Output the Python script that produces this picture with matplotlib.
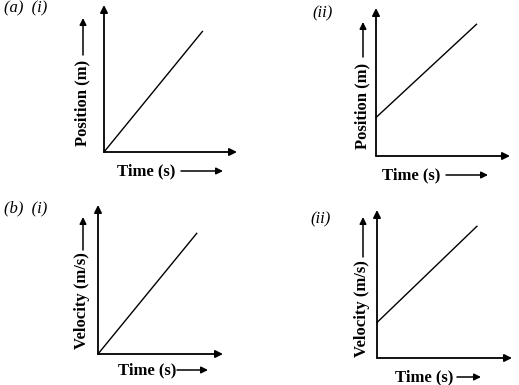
import matplotlib
matplotlib.use('Agg')
import matplotlib.pyplot as plt

# data for the four sketches (arbitrary units, axes run 0..10)
panel_names = ['(a)  (i)', '(ii)', '(b)  (i)', '(ii)']
y_labels = ['Position (m)', 'Position (m)', 'Velocity (m/s)', 'Velocity (m/s)']
x_labels = ['Time (s)', 'Time (s)', 'Time (s)', 'Time (s)']
line_t = [[0, 7.4], [0, 7.5], [0, 7.9], [0, 7.4]]
line_v = [[0, 8.2], [2.6, 8.9], [0, 8.1], [2.4, 8.9]]

W, H = 519, 385
fig = plt.figure(figsize=(W / 100, H / 100), dpi=100)
fig.patch.set_facecolor('white')

def fx(px):
    return px / W

def fy(py):
    return 1 - py / H

# layout in pixels: origin x, origin y, x tip, y tip
boxes = [(104, 152, 237, 5), (376, 156, 510, 8), (98, 354, 223, 205), (377, 358, 512, 210)]
# panel name pos, ylabel center x, ylabel text span (bottom, top), ylabel arrow top,
# xlabel left x, xlabel y, xlabel arrow (start, end)
name_pos = [(4, 8), (312, 13), (4, 208), (310, 219)]
ylab = [(82, 145, 60, 18), (362, 150, 62, 22), (82, 347, 255, 217), (362, 355, 262, 217)]
xlab = [(117, 171, 181, 223), (382, 175, 446, 488), (118, 370, 177, 208), (395, 377, 457, 481)]

serif = 'Liberation Serif'
arrow_kw = dict(arrowstyle='-|>', color='black', lw=1.3, mutation_scale=11,
                shrinkA=0, shrinkB=0)
small_arrow = dict(arrowstyle='-|>', color='black', lw=1.1, mutation_scale=10,
                   shrinkA=0, shrinkB=0)

for i in range(4):
    ox, oy, tx, ty = boxes[i]
    ax = fig.add_axes([fx(ox), fy(oy), fx(tx) - fx(ox), fy(ty) - fy(oy)])
    ax.set_xlim(0, 10)
    ax.set_ylim(0, 10)
    ax.axis('off')
    ax.plot(line_t[i], line_v[i], color='black', lw=1.0, clip_on=False)
    ax.annotate('', xy=(1, 0), xytext=(0, 0), xycoords='axes fraction',
                arrowprops=arrow_kw)
    ax.annotate('', xy=(0, 1), xytext=(0, 0), xycoords='axes fraction',
                arrowprops=arrow_kw)

    nx_, ny_ = name_pos[i]
    fig.text(fx(nx_), fy(ny_), panel_names[i], family=serif, style='italic',
             fontsize=12, ha='left', va='center')

    cx, yb, yt, ya = ylab[i]
    fig.text(fx(cx), (fy(yb) + fy(yt)) / 2, y_labels[i], family=serif,
             weight='bold', fontsize=12, rotation=90, ha='center', va='center')
    fig.add_artist(matplotlib.patches.FancyArrowPatch(
        (fx(cx + 1), fy(yt - 5)), (fx(cx + 1), fy(ya)), transform=fig.transFigure,
        **small_arrow))

    lx, ly, a0, a1 = xlab[i]
    fig.text(fx(lx), fy(ly), x_labels[i], family=serif, weight='bold',
             fontsize=12, ha='left', va='center')
    fig.add_artist(matplotlib.patches.FancyArrowPatch(
        (fx(a0), fy(ly)), (fx(a1), fy(ly)), transform=fig.transFigure,
        **small_arrow))

fig.savefig('out.png', dpi=100, facecolor='white')
